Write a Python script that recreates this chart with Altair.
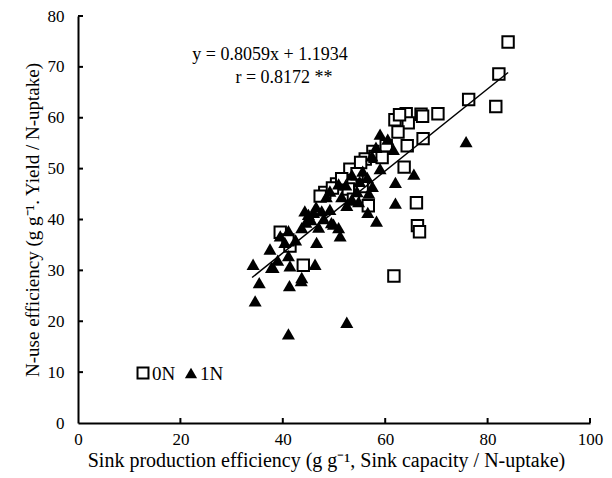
import altair as alt
import pandas as pd

# 0N (open squares)
sq_x = [84.0, 82.2, 81.6, 76.3, 70.3, 67.0, 67.3, 64.1, 61.9, 64.5, 62.5, 67.4, 64.3, 57.6,
        60.2, 56.1, 58.0, 63.7, 53.1, 55.2, 52.8, 53.8, 48.2, 47.3, 50.5, 56.7, 55.5, 66.1,
        66.3, 66.7, 61.7, 39.5, 41.4, 44.0, 41.0, 49.7, 51.5, 54.5, 59.4, 62.8]
sq_y = [74.9, 68.6, 62.2, 63.6, 60.8, 60.7, 60.3, 60.8, 59.6, 59.0, 57.2, 55.9, 54.5, 53.4,
        54.5, 51.9, 52.4, 50.3, 49.9, 51.2, 46.0, 44.0, 45.3, 44.6, 47.0, 42.7, 46.5, 43.3,
        38.8, 37.6, 28.9, 37.5, 34.8, 31.0, 36.0, 46.2, 48.0, 49.0, 52.2, 60.6]

# 1N (filled triangles)
tri_x = [75.8, 65.6, 59.0, 61.6, 60.5, 58.2, 57.4, 55.6, 53.5, 56.5, 55.0, 52.3, 50.9, 49.2,
         48.5, 51.5, 53.5, 52.5, 54.5, 56.8, 62.0, 62.0, 56.6, 58.3, 51.2, 49.9, 44.3, 46.0,
         47.6, 49.2, 45.5, 47.0, 49.5, 50.9, 46.6, 43.7, 41.1, 39.5, 37.5, 40.4, 41.1, 38.1,
         41.4, 46.3, 43.7, 34.2, 37.8, 35.4, 34.6, 41.3, 43.6, 41.1, 52.5, 39.0, 42.5, 44.5,
         48.0, 46.5, 54.8, 59.0, 57.5, 45.0]
tri_y = [55.3, 48.9, 56.8, 53.8, 55.8, 54.2, 52.5, 49.5, 48.8, 48.3, 47.5, 46.8, 47.0, 45.6,
         44.5, 44.5, 44.0, 42.8, 45.5, 45.2, 43.2, 47.3, 41.4, 39.7, 36.8, 39.1, 41.7, 41.4,
         41.7, 42.0, 40.0, 38.5, 39.4, 38.4, 35.5, 38.4, 37.8, 36.8, 34.2, 35.5, 32.9, 30.6,
         30.9, 31.2, 28.6, 31.2, 30.6, 27.6, 24.0, 27.0, 28.0, 17.5, 19.8, 32.0, 36.0, 39.5,
         40.2, 42.5, 43.5, 50.0, 46.5, 41.0]

groups = ["0N", "1N"]
slope = 0.8059
intercept = 1.1934
line_x = [34.0, 84.0]
x_ticks = [0, 20, 40, 60, 80, 100]
y_ticks = [0, 10, 20, 30, 40, 50, 60, 70, 80]
eq_text = ["y = 0.8059x + 1.1934", "r = 0.8172 **"]

FONT = "Liberation Serif"
W, H = 512, 407

pts = pd.DataFrame({
    "x": sq_x + tri_x,
    "y": sq_y + tri_y,
    "grp": ["0N"] * len(sq_x) + ["1N"] * len(tri_x),
})
line_df = pd.DataFrame({"x": line_x, "y": [slope * v + intercept for v in line_x]})
xt_df = pd.DataFrame({"v": x_ticks[1:]})
yt_df = pd.DataFrame({"v": y_ticks[1:]})

xs = alt.Scale(domain=[0, 100], nice=False)
ys = alt.Scale(domain=[0, 80], nice=False)

xaxis = alt.Axis(values=x_ticks, title="Sink production efficiency (g g\u207b\u00b9, Sink capacity / N-uptake)",
                 ticks=False, labelPadding=8, grid=False, titlePadding=3, labelFlush=False,
                 titleFontSize=20, titleX=248)
yaxis = alt.Axis(values=y_ticks, title="N-use efficiency (g g\u207b\u00b9. Yield / N-uptake)",
                 ticks=False, labelPadding=14, grid=False, titlePadding=5, labelFlush=False)

sq_layer = alt.Chart(pts[pts.grp == "0N"]).mark_point(
    shape="square", filled=True, fill="white", stroke="black", strokeWidth=2, size=130, opacity=1
).encode(
    x=alt.X("x:Q", scale=xs, axis=xaxis),
    y=alt.Y("y:Q", scale=ys, axis=yaxis),
)
tri_layer = alt.Chart(pts[pts.grp == "1N"]).mark_point(
    shape="triangle-up", filled=True, fill="black", strokeWidth=0, size=170, opacity=1
).encode(
    x=alt.X("x:Q", scale=xs),
    y=alt.Y("y:Q", scale=ys),
)
reg = alt.Chart(line_df).mark_line(color="black", strokeWidth=1.5).encode(
    x=alt.X("x:Q", scale=xs), y=alt.Y("y:Q", scale=ys))

xticks = alt.Chart(xt_df).mark_rule(color="black", strokeWidth=2).encode(
    x=alt.X("v:Q", scale=xs), y=alt.value(H), y2=alt.value(H - 5))
yticks = alt.Chart(yt_df).mark_rule(color="black", strokeWidth=2).encode(
    y=alt.Y("v:Q", scale=ys), x=alt.value(0), x2=alt.value(5))

t1 = alt.Chart(pd.DataFrame({"t": [eq_text[0]]})).mark_text(font=FONT, fontSize=18, color="black").encode(
    text="t:N", x=alt.value(192), y=alt.value(39))
t2 = alt.Chart(pd.DataFrame({"t": [eq_text[1]]})).mark_text(font=FONT, fontSize=18, color="black").encode(
    text="t:N", x=alt.value(206), y=alt.value(62))

# legend (drawn manually)
leg_sq = alt.Chart(pd.DataFrame({"g": [groups[0]]})).mark_point(
    shape="square", filled=True, fill="white", stroke="black", strokeWidth=2, size=120, opacity=1
).encode(x=alt.value(65), y=alt.value(357))
leg_sq_t = alt.Chart(pd.DataFrame({"g": [groups[0]]})).mark_text(
    font=FONT, fontSize=19, color="black", align="left", baseline="middle").encode(
    text="g:N", x=alt.value(74), y=alt.value(358))
leg_tri = alt.Chart(pd.DataFrame({"g": [groups[1]]})).mark_point(
    shape="triangle-up", filled=True, fill="black", strokeWidth=0, size=150, opacity=1
).encode(x=alt.value(113), y=alt.value(357))
leg_tri_t = alt.Chart(pd.DataFrame({"g": [groups[1]]})).mark_text(
    font=FONT, fontSize=19, color="black", align="left", baseline="middle").encode(
    text="g:N", x=alt.value(122), y=alt.value(358))

chart = alt.layer(sq_layer, tri_layer, reg, xticks, yticks, t1, t2,
                  leg_sq, leg_sq_t, leg_tri, leg_tri_t).properties(
    width=W, height=H,
    background="white",
    autosize=alt.AutoSizeParams(type="none"),
    padding={"left": 70, "top": 8, "right": 14, "bottom": 51},
).configure_view(stroke=None).configure_axis(
    domainColor="black", domainWidth=2, labelFont=FONT, labelFontSize=17, labelColor="black",
    titleFont=FONT, titleFontSize=19, titleColor="black", titleFontWeight="normal",
)

chart.save("out.html", embed_options={"renderer": "svg", "actions": False})
